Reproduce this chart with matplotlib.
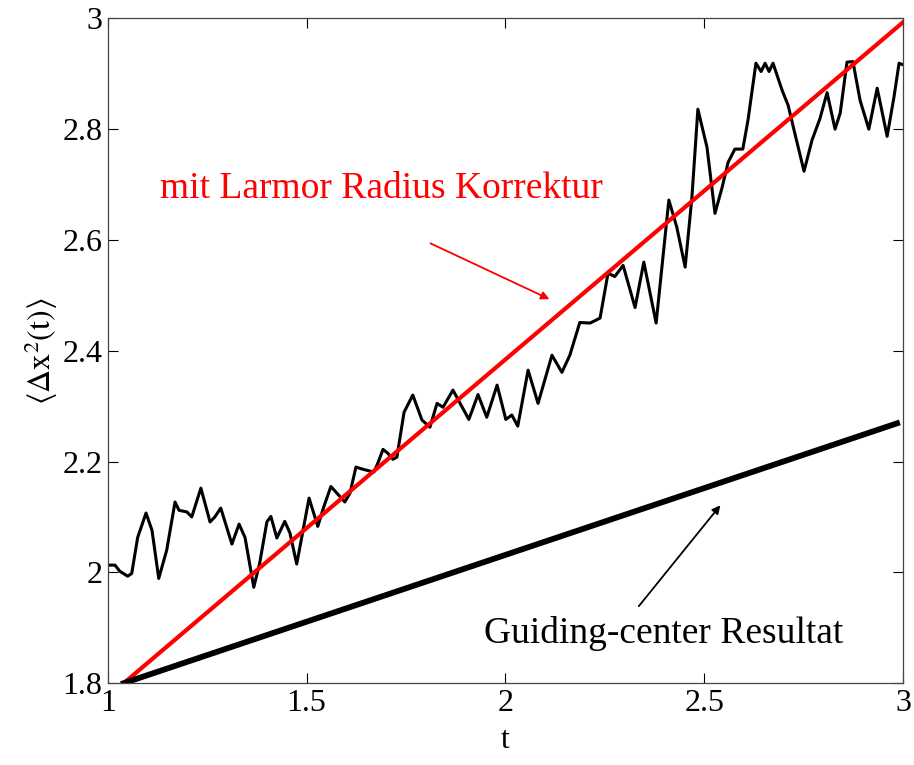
import matplotlib.pyplot as plt

plt.rcParams['font.family'] = ['Liberation Serif', 'DejaVu Serif']
plt.rcParams['mathtext.fontset'] = 'stix'

# noisy simulation curve
t_sim = [1.000, 1.018, 1.030, 1.050, 1.060, 1.075, 1.096, 1.111, 1.128, 1.148,
         1.169, 1.179, 1.199, 1.211, 1.234, 1.257, 1.269, 1.284, 1.312, 1.330,
         1.345, 1.367, 1.382, 1.400, 1.410, 1.425, 1.445, 1.458, 1.475, 1.491,
         1.506, 1.528, 1.543, 1.561, 1.576, 1.596, 1.609, 1.624, 1.642, 1.669,
         1.679, 1.692, 1.704, 1.717, 1.727, 1.745, 1.767, 1.790, 1.810, 1.828,
         1.843, 1.868, 1.886, 1.908, 1.931, 1.953, 1.979, 2.001, 2.016, 2.031,
         2.057, 2.082, 2.117, 2.142, 2.162, 2.187, 2.213, 2.238, 2.258, 2.275,
         2.296, 2.326, 2.348, 2.379, 2.411, 2.431, 2.452, 2.469, 2.484, 2.507,
         2.527, 2.545, 2.560, 2.577, 2.597, 2.610, 2.630, 2.643, 2.653, 2.663,
         2.673, 2.696, 2.711, 2.728, 2.751, 2.771, 2.791, 2.809, 2.829, 2.842,
         2.859, 2.874, 2.892, 2.914, 2.935, 2.960, 2.977, 2.990, 2.997]
x2_sim = [2.013, 2.013, 2.002, 1.993, 1.998, 2.063, 2.107, 2.076, 1.989, 2.040,
          2.127, 2.112, 2.109, 2.100, 2.152, 2.091, 2.100, 2.116, 2.051, 2.087,
          2.063, 1.973, 2.017, 2.091, 2.101, 2.062, 2.092, 2.071, 2.015, 2.076,
          2.134, 2.083, 2.118, 2.155, 2.143, 2.127, 2.143, 2.190, 2.186, 2.181,
          2.197, 2.222, 2.215, 2.204, 2.208, 2.289, 2.320, 2.275, 2.262, 2.305,
          2.298, 2.329, 2.305, 2.276, 2.321, 2.280, 2.338, 2.276, 2.284, 2.264,
          2.365, 2.305, 2.392, 2.361, 2.392, 2.451, 2.450, 2.459, 2.540, 2.534,
          2.554, 2.478, 2.560, 2.450, 2.672, 2.623, 2.551, 2.677, 2.836, 2.767,
          2.648, 2.695, 2.740, 2.764, 2.764, 2.816, 2.919, 2.904, 2.919, 2.904,
          2.919, 2.870, 2.843, 2.792, 2.724, 2.780, 2.819, 2.866, 2.800, 2.829,
          2.921, 2.922, 2.852, 2.800, 2.874, 2.787, 2.857, 2.919, 2.917]

# straight-line fits
t_larmor = [1.04, 3.0]
x2_larmor = [1.80, 2.993]
t_gc = [1.04, 2.985]
x2_gc = [1.80, 2.269]

xticks = [1, 1.5, 2, 2.5, 3]
xticklabels = ['1', '1.5', '2', '2.5', '3']
yticks = [1.8, 2.0, 2.2, 2.4, 2.6, 2.8, 3.0]
yticklabels = ['1.8', '2', '2.2', '2.4', '2.6', '2.8', '3']

fig = plt.figure(figsize=(9.14, 7.65), dpi=100)
ax = fig.add_axes([0.118, 0.107, 0.870, 0.869])

ax.plot(t_sim, x2_sim, color='black', lw=2.2, solid_joinstyle='round')
ax.plot(t_larmor, x2_larmor, color='red', lw=3.0)
ax.plot(t_gc, x2_gc, color='black', lw=4.2)

ax.set_xlim(1, 3)
ax.set_ylim(1.8, 3)
ax.set_xticks(xticks)
ax.set_xticklabels(xticklabels)
ax.set_yticks(yticks)
ax.set_yticklabels(yticklabels)
ax.tick_params(direction='in', top=True, right=True, labelsize=23,
               length=7, width=0.8, pad=4)
for s in ax.spines.values():
    s.set_linewidth(0.9)
    s.set_color('#444444')

ax.set_xlabel('t', fontsize=23, labelpad=6)
ax.set_ylabel(r'$\langle \Delta \mathrm{x}^2\mathrm{(t)} \rangle$', fontsize=23, labelpad=2)

ax.text(1.687, 2.693, 'mit Larmor Radius Korrektur', color='red', fontsize=27,
        ha='center', va='center')
ax.annotate('', xy=(2.117, 2.491), xytext=(1.805, 2.596),
            arrowprops=dict(arrowstyle='-|>', color='red', lw=1.3, mutation_scale=12))

ax.text(2.399, 1.890, 'Guiding-center Resultat', color='black', fontsize=27,
        ha='center', va='center')
ax.annotate('', xy=(2.545, 2.125), xytext=(2.331, 1.935),
            arrowprops=dict(arrowstyle='-|>', color='black', lw=1.3, mutation_scale=12))

fig.savefig('out.png', dpi=100)
